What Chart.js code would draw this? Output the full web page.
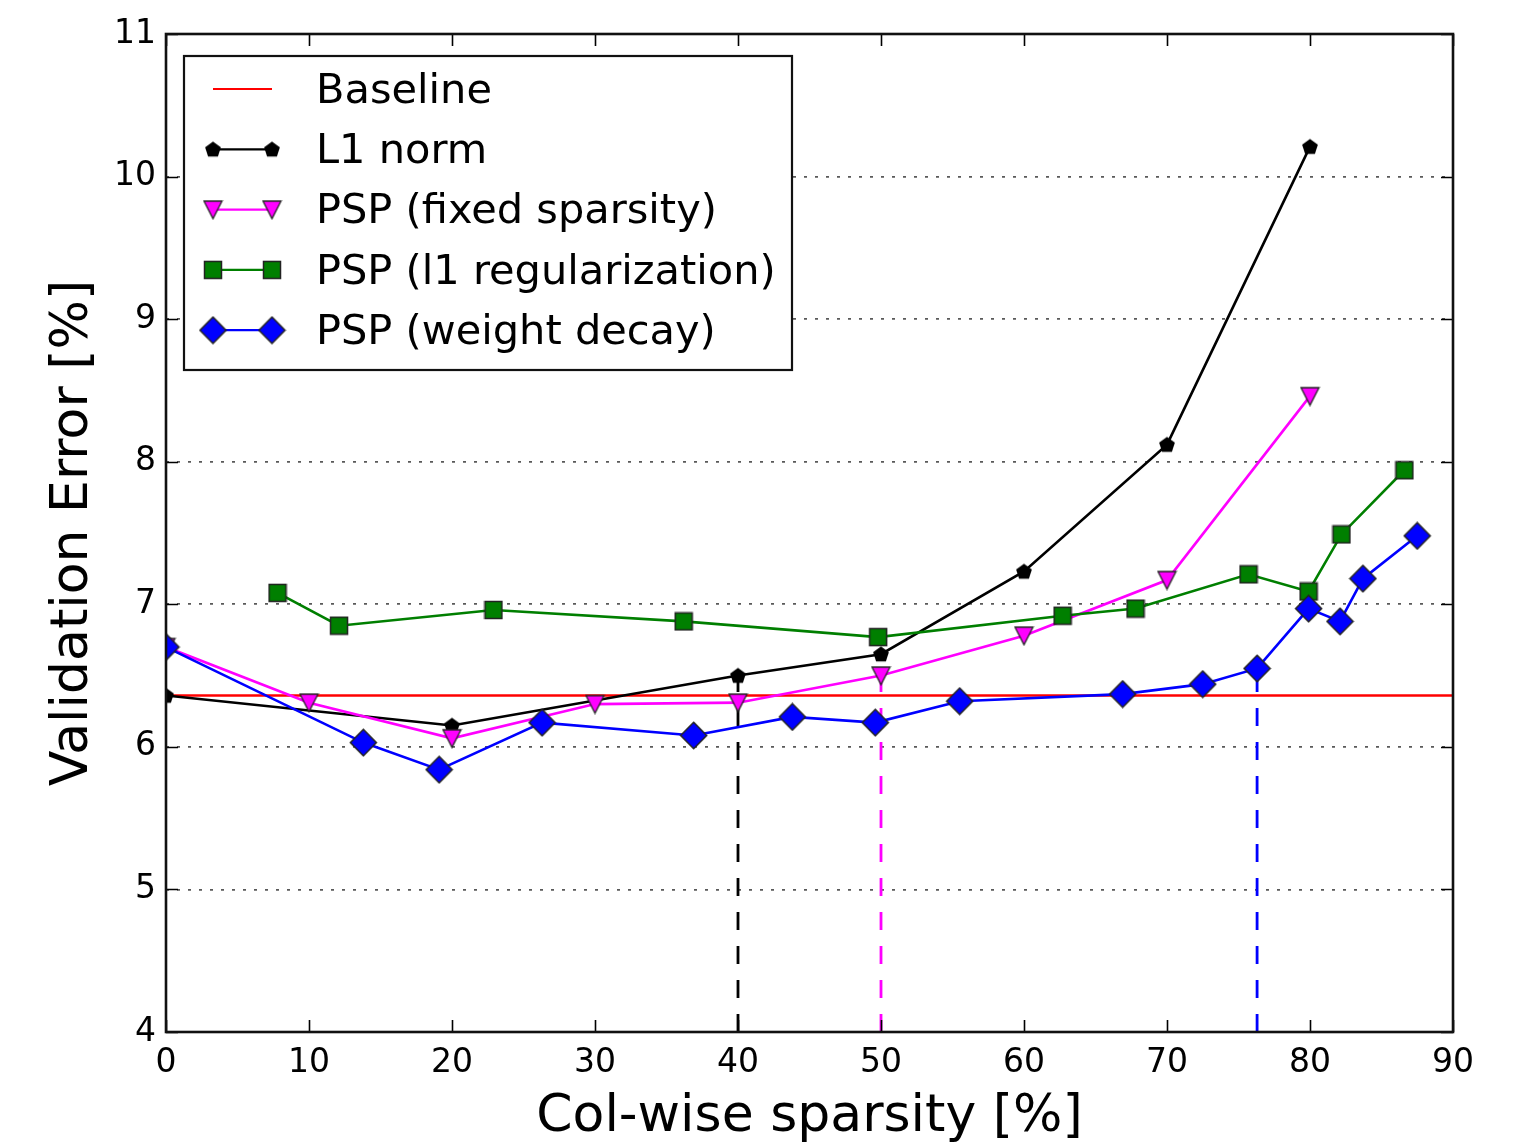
<!DOCTYPE html>
<html>
<head>
<meta charset="utf-8">
<script src="https://cdn.jsdelivr.net/npm/chart.js@4/dist/chart.umd.min.js"></script>
<style>
  html, body { margin: 0; padding: 0; background: #fff; }
  #wrap { width: 1522px; height: 1145px; }
</style>
</head>
<body>
<div id="wrap"><canvas id="c" width="1522" height="1145"></canvas></div>
<script>
// ---------------- data ----------------
const seriesNames = ['Baseline', 'L1 norm', 'PSP (fixed sparsity)', 'PSP (l1 regularization)', 'PSP (weight decay)'];
const xTitle = 'Col-wise sparsity [%]';
const yTitle = 'Validation Error [%]';
const xTickValues = [0, 10, 20, 30, 40, 50, 60, 70, 80, 90];
const yTickValues = [4, 5, 6, 7, 8, 9, 10, 11];

const baselineX = [0, 90];
const baselineY = [6.36, 6.36];

const l1X = [0, 20, 40, 50, 60, 70, 80];
const l1Y = [6.36, 6.15, 6.50, 6.65, 7.23, 8.12, 10.21];

const fixedX = [0, 10, 20, 30, 40, 50, 60, 70, 80];
const fixedY = [6.70, 6.31, 6.06, 6.30, 6.31, 6.50, 6.78, 7.17, 8.46];

const l1regX = [7.8, 12.1, 22.9, 36.2, 49.8, 62.7, 67.8, 75.7, 79.9, 82.2, 86.6];
const l1regY = [7.08, 6.85, 6.96, 6.88, 6.77, 6.92, 6.97, 7.21, 7.09, 7.49, 7.94];

const wdX = [0, 13.8, 19.1, 26.3, 36.9, 43.8, 49.6, 55.5, 66.9, 72.5, 76.3, 79.9, 82.1, 83.7, 87.5];
const wdY = [6.70, 6.03, 5.84, 6.17, 6.08, 6.21, 6.17, 6.32, 6.37, 6.44, 6.55, 6.97, 6.88, 7.18, 7.48];

// vertical dashed markers (x, top y) for L1 norm, fixed sparsity, weight decay
const cutX = [40, 50, 76.3];
const cutY = [6.50, 6.50, 6.55];
const cutBottom = 4;

// ---------------- helpers ----------------
const FONT = "'DejaVu Sans', 'Liberation Sans', sans-serif";
const colors = { baseline: '#ff0000', l1: '#000000', fixed: '#ff00ff', l1reg: '#007f00', wd: '#0000ff' };

function zip(xs, ys) { return xs.map((x, i) => ({ x: x, y: ys[i] })); }

function makeMarker(kind) {
  const c = document.createElement('canvas');
  let s;
  if (kind === 'pentagon') s = 18;
  else if (kind === 'triangle') s = 21;
  else if (kind === 'square') s = 20;
  else s = 29;
  c.width = s; c.height = s;
  const g = c.getContext('2d');
  const m = s / 2;
  g.beginPath();
  if (kind === 'pentagon') {
    const r = 8.3;
    for (let i = 0; i < 5; i++) {
      const a = -Math.PI / 2 + i * 2 * Math.PI / 5;
      const px = m + r * Math.cos(a), py = m + 0.6 + r * Math.sin(a);
      if (i === 0) g.moveTo(px, py); else g.lineTo(px, py);
    }
    g.closePath();
    g.fillStyle = '#000'; g.fill();
  } else if (kind === 'triangle') {
    g.moveTo(1.5, 2); g.lineTo(s - 1.5, 2); g.lineTo(m, s - 1.5); g.closePath();
    g.fillStyle = colors.fixed; g.fill();
    g.lineWidth = 1.3; g.strokeStyle = '#222'; g.stroke();
  } else if (kind === 'square') {
    g.rect(1.5, 1.5, s - 3, s - 3);
    g.fillStyle = colors.l1reg; g.fill();
    g.lineWidth = 1.5; g.strokeStyle = '#222'; g.stroke();
  } else {
    g.moveTo(m, 1.2); g.lineTo(s - 1.5, m); g.lineTo(m, s - 1.2); g.lineTo(1.5, m); g.closePath();
    g.fillStyle = colors.wd; g.fill();
    g.lineWidth = 1.5; g.strokeStyle = '#222'; g.stroke();
  }
  return c;
}
const mk = {
  pentagon: makeMarker('pentagon'),
  triangle: makeMarker('triangle'),
  square: makeMarker('square'),
  diamond: makeMarker('diamond')
};

// ---------------- datasets ----------------
const LW = 2.6;
const datasets = [
  { label: seriesNames[4], data: zip(wdX, wdY), borderColor: colors.wd, borderWidth: LW,
    pointStyle: mk.diamond, pointRadius: 10, order: 0, clip: 0 },
  { label: seriesNames[3], data: zip(l1regX, l1regY), borderColor: colors.l1reg, borderWidth: LW,
    pointStyle: mk.square, pointRadius: 10, order: 1, clip: 0 },
  { label: seriesNames[2], data: zip(fixedX, fixedY), borderColor: colors.fixed, borderWidth: LW,
    pointStyle: mk.triangle, pointRadius: 10, order: 2, clip: 0 },
  { label: seriesNames[1], data: zip(l1X, l1Y), borderColor: colors.l1, borderWidth: LW,
    pointStyle: mk.pentagon, pointRadius: 9, order: 3, clip: 0 },
  { label: seriesNames[0], data: zip(baselineX, baselineY), borderColor: colors.baseline, borderWidth: LW,
    pointRadius: 0, order: 4, clip: 0 }
];
const cutColors = [colors.l1, colors.fixed, colors.wd];
cutX.forEach((cx, i) => {
  datasets.push({ label: 'cut' + i, data: [{ x: cx, y: cutBottom }, { x: cx, y: cutY[i] }],
    borderColor: cutColors[i], borderWidth: 2.8, borderDash: [18, 16], pointRadius: 0, order: 5, clip: 0 });
});

// ---------------- plugins ----------------
const framePlugin = {
  id: 'frame',
  afterDatasetsDraw(chart) {
    const { ctx, chartArea: a, scales } = chart;
    ctx.save();
    ctx.strokeStyle = '#000';
    ctx.lineWidth = 1.6;
    const L = 12;
    ctx.beginPath();
    scales.x.ticks.forEach(t => {
      const px = Math.round(scales.x.getPixelForValue(t.value)) + 0.5;
      ctx.moveTo(px, a.bottom); ctx.lineTo(px, a.bottom - L);
      ctx.moveTo(px, a.top); ctx.lineTo(px, a.top + L);
    });
    scales.y.ticks.forEach(t => {
      const py = Math.round(scales.y.getPixelForValue(t.value)) + 0.5;
      ctx.moveTo(a.left, py); ctx.lineTo(a.left + L, py);
      ctx.moveTo(a.right, py); ctx.lineTo(a.right - L, py);
    });
    ctx.stroke();
    ctx.lineWidth = 2.6;
    ctx.strokeStyle = '#111';
    ctx.strokeRect(a.left, a.top, a.right - a.left, a.bottom - a.top);
    ctx.restore();
  }
};

const legendPlugin = {
  id: 'mplLegend',
  afterDraw(chart) {
    const { ctx, chartArea: a } = chart;
    const box = { x: a.left + 18, y: a.top + 22, w: 608, h: 314 };
    ctx.save();
    ctx.fillStyle = '#fff';
    ctx.fillRect(box.x, box.y, box.w, box.h);
    ctx.lineWidth = 2.2;
    ctx.strokeStyle = '#111';
    ctx.strokeRect(box.x, box.y, box.w, box.h);
    const entries = [
      { name: seriesNames[0], color: colors.baseline, marker: null },
      { name: seriesNames[1], color: colors.l1, marker: mk.pentagon },
      { name: seriesNames[2], color: colors.fixed, marker: mk.triangle },
      { name: seriesNames[3], color: colors.l1reg, marker: mk.square },
      { name: seriesNames[4], color: colors.wd, marker: mk.diamond }
    ];
    const x1 = box.x + 29, x2 = box.x + 88, tx = box.x + 132;
    ctx.font = '41.5px ' + FONT;
    ctx.textBaseline = 'middle';
    ctx.textAlign = 'left';
    entries.forEach((e, i) => {
      const cy = box.y + 33 + i * 60.3;
      ctx.strokeStyle = e.color;
      ctx.lineWidth = 2.2;
      ctx.beginPath(); ctx.moveTo(x1, cy); ctx.lineTo(x2, cy); ctx.stroke();
      if (e.marker) {
        const w = e.marker.width, h = e.marker.height;
        ctx.drawImage(e.marker, x1 - w / 2, cy - h / 2);
        ctx.drawImage(e.marker, x2 - w / 2, cy - h / 2);
      }
      ctx.fillStyle = '#000';
      ctx.fillText(e.name, tx, cy + 3);
    });
    ctx.restore();
  }
};

// ---------------- chart ----------------
new Chart(document.getElementById('c'), {
  type: 'line',
  data: { datasets: datasets },
  plugins: [framePlugin, legendPlugin],
  options: {
    responsive: false,
    animation: false,
    events: [],
    layout: { padding: { left: 0, right: 69, top: 34, bottom: 0 } },
    plugins: { legend: { display: false }, tooltip: { enabled: false } },
    elements: { line: { tension: 0, fill: false } },
    scales: {
      x: {
        type: 'linear', min: 0, max: 90,
        afterBuildTicks: s => { s.ticks = xTickValues.map(v => ({ value: v })); },
        ticks: { color: '#000', font: { family: FONT, size: 33 }, padding: 12, maxRotation: 0, autoSkip: false },
        grid: { display: false, drawTicks: false },
        border: { display: false },
        title: { display: true, text: xTitle, color: '#000', font: { family: FONT, size: 52 }, padding: { top: 0, bottom: -4 } },
        afterFit: s => { s.height = 113; }
      },
      y: {
        type: 'linear', min: 4, max: 11,
        afterBuildTicks: s => { s.ticks = yTickValues.map(v => ({ value: v })); },
        ticks: { color: '#000', font: { family: FONT, size: 33 }, padding: 10, autoSkip: false },
        grid: { drawTicks: false, color: 'rgba(0,0,0,0.65)', lineWidth: 1.7 },
        border: { display: false, dash: [3, 8] },
        title: { display: true, text: yTitle, color: '#000', font: { family: FONT, size: 52 }, padding: { top: 42, bottom: 0 } },
        afterFit: s => { s.width = 166; }
      }
    }
  }
});
</script>
</body>
</html>
